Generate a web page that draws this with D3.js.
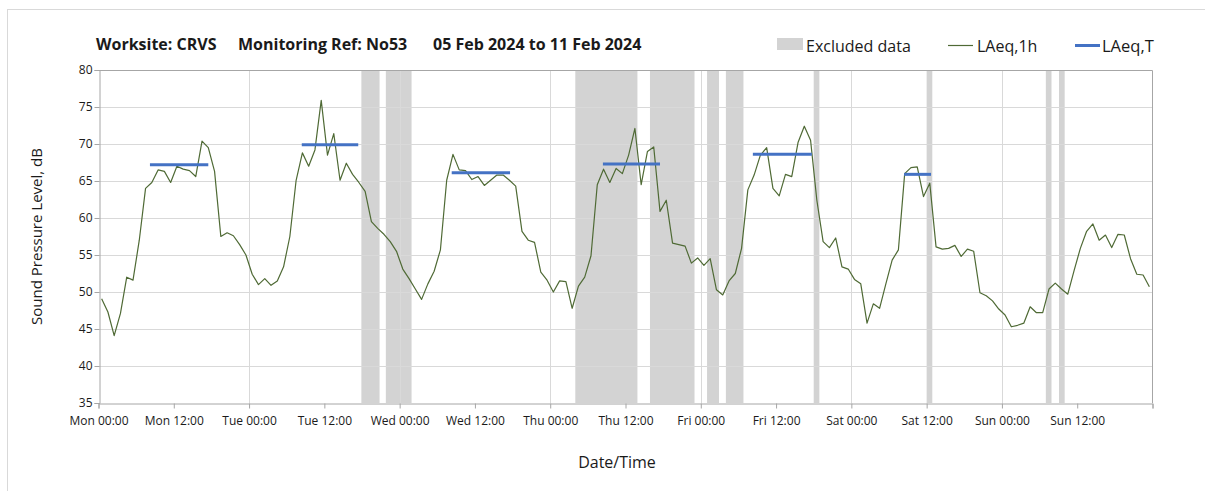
<html>
<meta charset='utf-8'>
<head>
    <script src="https://d3js.org/d3.v7.min.js"></script>
    <style>
      body { margin: 0; background: #fff; }
      text { font-family: "Open Sans", sans-serif; fill: #1a1a1a; }
    </style>
</head>
<body>
<div id='viz'></div>
<script>
    // hourly LAeq,1h values, Mon 00:00 onwards (one per hour)
    let laeq1h = [
      49.1, 47.3, 44.1, 47.1, 52.0, 51.6, 57.0, 64.0, 64.8, 66.5, 66.3, 64.8,
      67.0, 66.6, 66.4, 65.6, 70.4, 69.5, 66.3, 57.5, 58.0, 57.6, 56.4, 55.0,
      52.4, 51.0, 51.8, 50.9, 51.5, 53.4, 57.5, 65.1, 68.8, 67.0, 69.2, 75.9,
      68.5, 71.4, 65.1, 67.4, 65.9, 64.8, 63.6, 59.5, 58.6, 57.8, 56.8, 55.5,
      53.1, 51.8, 50.4, 49.0, 51.1, 52.8, 55.7, 65.1, 68.6, 66.5, 66.4, 65.2,
      65.6, 64.4, 65.1, 65.8, 65.8, 65.1, 64.3, 58.2, 57.0, 56.7, 52.7, 51.6,
      50.0, 51.5, 51.4, 47.8, 50.8, 52.0, 54.9, 64.5, 66.6, 64.8, 66.7, 66.0,
      68.5, 72.1, 64.5, 69.0, 69.6, 60.9, 62.4, 56.6, 56.4, 56.2, 53.9, 54.6,
      53.6, 54.5, 50.3, 49.6, 51.5, 52.5, 55.9, 63.8, 65.8, 68.5, 69.5, 64.0,
      63.0, 65.9, 65.6, 70.2, 72.4, 70.5, 62.4, 56.8, 56.0, 57.3, 53.4, 53.1,
      51.7, 51.1, 45.8, 48.4, 47.8, 51.1, 54.3, 55.7, 66.0, 66.8, 66.9, 62.9,
      64.7, 56.1, 55.8, 55.9, 56.3, 54.8, 55.8, 55.5, 49.9, 49.5, 48.8, 47.7,
      46.9, 45.3, 45.5, 45.8, 48.0, 47.2, 47.2, 50.4, 51.2, 50.4, 49.7, 52.9,
      55.9, 58.2, 59.2, 57.0, 57.7, 56.0, 57.8, 57.7, 54.5, 52.4, 52.3, 50.7
    ];

    // LAeq,T periods: [start hour, end hour, level]
    let laeqT = [
      [8.2, 17.5, 67.2],
      [32.4, 41.4, 69.9],
      [56.3, 65.6, 66.1],
      [80.4, 89.5, 67.3],
      [104.3, 113.7, 68.6],
      [128.4, 132.7, 65.9]
    ];

    // excluded data periods: [start hour, end hour]
    let excluded = [
      [41.9, 44.8], [45.8, 49.9], [76.0, 85.9], [87.9, 95.0], [97.0, 98.9],
      [100.0, 102.8], [114.0, 114.9], [132.0, 132.9], [151.0, 151.9], [153.1, 154.0]
    ];

    let days = ['Mon', 'Tue', 'Wed', 'Thu', 'Fri', 'Sat', 'Sun'];
    let yTicks = [35, 40, 45, 50, 55, 60, 65, 70, 75, 80];

    let width = 1205, height = 491;
    let margin = {left: 98.5, right: 52.5, top: 70, bottom: 88};

    let svg = d3.select('#viz').append('svg')
        .attr('width', width)
        .attr('height', height);

    // outer chart border
    svg.append('rect')
        .attr('x', 7.5).attr('y', 9.5)
        .attr('width', width).attr('height', height)
        .attr('fill', 'none')
        .attr('stroke', '#d9d9d9');

    let x = d3.scaleLinear().domain([0, 168]).range([margin.left, width - margin.right]);
    let y = d3.scaleLinear().domain([35, 80]).range([height - margin.bottom, margin.top]);

    // excluded bands
    svg.append('g').selectAll('rect')
        .data(excluded)
        .join('rect')
        .attr('x', d => x(d[0]))
        .attr('width', d => x(d[1]) - x(d[0]))
        .attr('y', y(80))
        .attr('height', y(35) - y(80))
        .attr('fill', '#d3d3d3');

    // gridlines
    svg.append('g').selectAll('line')
        .data(yTicks.slice(1, -1))
        .join('line')
        .attr('x1', x(0)).attr('x2', x(168))
        .attr('y1', d => Math.round(y(d)) + 0.5).attr('y2', d => Math.round(y(d)) + 0.5)
        .attr('stroke', '#d9d9d9');

    svg.append('g').selectAll('line')
        .data(d3.range(24, 168, 24))
        .join('line')
        .attr('x1', d => Math.round(x(d)) + 0.5).attr('x2', d => Math.round(x(d)) + 0.5)
        .attr('y1', y(80)).attr('y2', y(35))
        .attr('stroke', '#d9d9d9');

    // frame top and right
    svg.append('path')
        .attr('d', `M${x(0)},${Math.round(y(80)) + 0.5}H${x(168)}V${y(35)}`)
        .attr('fill', 'none')
        .attr('stroke', '#a6a6a6');

    // axes
    let xAxis = d3.axisBottom(x)
        .tickValues(d3.range(0, 169, 12))
        .tickSize(5)
        .tickFormat(d => d >= 168 ? '' : days[Math.floor(d / 24)] + ' ' + (d % 24 == 0 ? '00:00' : '12:00'));
    let gx = svg.append('g')
        .attr('transform', `translate(0,${Math.round(y(35)) + 0.5})`)
        .call(xAxis);

    let yAxis = d3.axisLeft(y).tickValues(yTicks).tickSize(5);
    let gy = svg.append('g')
        .attr('transform', `translate(${Math.round(x(0)) + 0.5},0)`)
        .call(yAxis);

    [gx, gy].forEach(g => {
      g.select('.domain').attr('stroke', '#a6a6a6');
      g.selectAll('.tick line').attr('stroke', '#a6a6a6');
      g.selectAll('.tick text')
        .attr('fill', '#262626')
        .style('font-family', '"Open Sans", sans-serif')
        .style('font-size', '12px');
    });
    gx.selectAll('.tick text').attr('dy', '1.15em');
    gy.selectAll('.tick text').attr('x', -7);

    // LAeq,1h line
    let line = d3.line()
        .x((d, i) => x(i + 0.5))
        .y(d => y(d));

    svg.append('path')
        .datum(laeq1h)
        .attr('d', line)
        .attr('fill', 'none')
        .attr('stroke', '#4f6a35')
        .attr('stroke-width', 1.2)
        .attr('stroke-linejoin', 'round');

    // LAeq,T segments
    svg.append('g').selectAll('line')
        .data(laeqT)
        .join('line')
        .attr('x1', d => x(d[0])).attr('x2', d => x(d[1]))
        .attr('y1', d => y(d[2])).attr('y2', d => y(d[2]))
        .attr('stroke', '#4472c4')
        .attr('stroke-width', 3);

    // title
    let titleParts = [
      ['Worksite: CRVS', 96],
      ['Monitoring Ref: No53', 238],
      ['05 Feb 2024 to 11 Feb 2024', 433]
    ];
    svg.append('g').selectAll('text')
        .data(titleParts)
        .join('text')
        .attr('x', d => d[1])
        .attr('y', 50)
        .style('font-size', '16px')
        .style('font-weight', 'bold')
        .text(d => d[0]);

    // legend
    let legend = svg.append('g');
    legend.append('rect')
        .attr('x', 777).attr('y', 38)
        .attr('width', 26).attr('height', 12)
        .attr('fill', '#d3d3d3');
    legend.append('text').attr('x', 806).attr('y', 51.5).style('font-size', '16px').text('Excluded data');
    legend.append('line')
        .attr('x1', 948).attr('x2', 973).attr('y1', 45.5).attr('y2', 45.5)
        .attr('stroke', '#4f6a35').attr('stroke-width', 1.2);
    legend.append('text').attr('x', 977).attr('y', 51.5).style('font-size', '16px').text('LAeq,1h');
    legend.append('line')
        .attr('x1', 1075).attr('x2', 1100).attr('y1', 45.5).attr('y2', 45.5)
        .attr('stroke', '#4472c4').attr('stroke-width', 3);
    legend.append('text').attr('x', 1102).attr('y', 51.5).style('font-size', '16.5px').text('LAeq,T');

    // axis titles
    svg.append('text')
        .attr('x', 617).attr('y', 468)
        .attr('text-anchor', 'middle')
        .style('font-size', '16px')
        .text('Date/Time');

    svg.append('text')
        .attr('transform', `translate(42,${(y(35) + y(80)) / 2}) rotate(-90)`)
        .attr('text-anchor', 'middle')
        .style('font-size', '15px')
        .text('Sound Pressure Level, dB');
</script>
</body>
</html>
